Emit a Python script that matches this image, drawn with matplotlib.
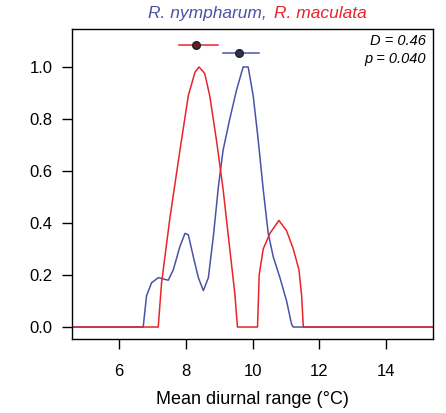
import matplotlib
matplotlib.use('Agg')
import matplotlib.pyplot as plt
import numpy as np

plt.rcParams['font.family'] = ['Liberation Sans', 'DejaVu Sans']

# density curves
red_x = [4.6, 7.18, 7.28, 7.53, 7.83, 8.08, 8.28, 8.40, 8.57, 8.72, 8.92, 9.12, 9.32, 9.47, 9.55,
         10.15, 10.20, 10.32, 10.52, 10.79, 11.02, 11.22, 11.39, 11.47, 11.52, 15.4]
red_y = [0.0, 0.0, 0.17, 0.42, 0.68, 0.89, 0.98, 1.0, 0.975, 0.89, 0.72, 0.53, 0.30, 0.13, 0.0,
         0.0, 0.20, 0.30, 0.36, 0.41, 0.37, 0.30, 0.22, 0.12, 0.0, 0.0]

blue_x = [4.6, 6.73, 6.83, 6.98, 7.18, 7.48, 7.63, 7.83, 7.98, 8.08, 8.23, 8.38, 8.53, 8.68, 8.83,
          8.98, 9.12, 9.32, 9.52, 9.72, 9.87, 10.02, 10.17, 10.32, 10.47, 10.62, 10.82, 11.02,
          11.17, 11.22, 15.4]
blue_y = [0.0, 0.0, 0.12, 0.17, 0.19, 0.18, 0.22, 0.31, 0.36, 0.355, 0.27, 0.19, 0.14, 0.19, 0.35,
          0.54, 0.68, 0.80, 0.91, 1.0, 1.0, 0.89, 0.72, 0.53, 0.36, 0.27, 0.19, 0.10,
          0.01, 0.0, 0.0]

# means with ranges
red_mean, red_lo, red_hi, red_level = 8.32, 7.80, 8.97, 1.085
blue_mean, blue_lo, blue_hi, blue_level = 9.60, 9.12, 10.19, 1.055

RED = '#e8242c'
BLUE = '#4a52a8'

fig = plt.figure(figsize=(4.46, 4.13), dpi=100)
ax = fig.add_axes([0.1614, 0.1792, 0.8095, 0.7506])

ax.plot(blue_x, blue_y, color=BLUE, lw=1.1)
ax.plot(red_x, red_y, color=RED, lw=1.1)

ax.plot([red_lo, red_hi], [red_level, red_level], color=RED, lw=1.1)
ax.plot(red_mean, red_level, 'o', ms=5.5, mfc='#6a1a20', mec='#222222')
ax.plot([blue_lo, blue_hi], [blue_level, blue_level], color=BLUE, lw=1.1)
ax.plot(blue_mean, blue_level, 'o', ms=5.5, mfc='#2a2f5a', mec='#222222')

ax.set_xlim(4.6, 15.4)
ax.set_ylim(-0.046, 1.146)
ax.set_xticks([6, 8, 10, 12, 14])
ax.set_yticks([0.0, 0.2, 0.4, 0.6, 0.8, 1.0])
ax.set_yticklabels(['0.0', '0.2', '0.4', '0.6', '0.8', '1.0'])
ax.tick_params(direction='out', length=7, width=1, labelsize=12)
ax.tick_params(axis='x', pad=11)
ax.tick_params(axis='y', pad=7)
for s in ax.spines.values():
    s.set_linewidth(1)
ax.set_xlabel('Mean diurnal range (°C)', fontsize=13, labelpad=9)

ax.text(0.98, 0.985, 'D = 0.46', transform=ax.transAxes, ha='right', va='top',
        fontsize=10.5, style='italic')
ax.text(0.98, 0.925, 'p = 0.040', transform=ax.transAxes, ha='right', va='top',
        fontsize=10.5, style='italic')

fig.text(0.599, 0.985, 'R. nympharum,', color=BLUE, fontsize=12.5, style='italic',
         ha='right', va='top')
fig.text(0.614, 0.985, 'R. maculata', color=RED, fontsize=12.5, style='italic',
         ha='left', va='top')

fig.savefig('out.png', dpi=100)
